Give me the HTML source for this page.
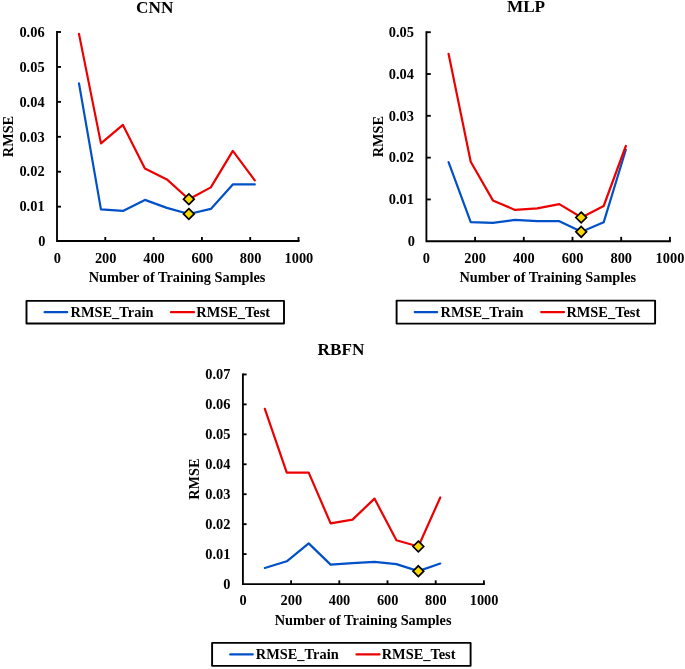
<!DOCTYPE html>
<html><head><meta charset="utf-8"><title>RMSE charts</title>
<style>
html,body{margin:0;padding:0;background:#fff;}
body{width:685px;height:669px;overflow:hidden;}
svg{display:block;will-change:transform;font-family:'Liberation Serif', serif;font-weight:bold;fill:#000;}
</style></head><body>
<svg width="685" height="669" viewBox="0 0 685 669">
<rect width="685" height="669" fill="#fff"/>
<path d="M57,31 V241 H299.5" fill="none" stroke="#000" stroke-width="1.85"/>
<text x="45.5" y="245.70" text-anchor="end" font-size="14.4">0</text>
<path d="M57,206.67 h4.0" stroke="#000" stroke-width="1.85"/>
<text x="44.6" y="211.37" text-anchor="end" font-size="14.4">0.01</text>
<path d="M57,171.73 h4.0" stroke="#000" stroke-width="1.85"/>
<text x="44.6" y="176.43" text-anchor="end" font-size="14.4">0.02</text>
<path d="M57,136.80 h4.0" stroke="#000" stroke-width="1.85"/>
<text x="44.6" y="141.50" text-anchor="end" font-size="14.4">0.03</text>
<path d="M57,101.87 h4.0" stroke="#000" stroke-width="1.85"/>
<text x="44.6" y="106.57" text-anchor="end" font-size="14.4">0.04</text>
<path d="M57,66.93 h4.0" stroke="#000" stroke-width="1.85"/>
<text x="44.6" y="71.63" text-anchor="end" font-size="14.4">0.05</text>
<path d="M57,32.00 h4.0" stroke="#000" stroke-width="1.85"/>
<text x="44.6" y="36.70" text-anchor="end" font-size="14.4">0.06</text>
<text x="57.40" y="262.7" text-anchor="middle" font-size="14.4">0</text>
<path d="M105.30,241 v-4.0" stroke="#000" stroke-width="1.85"/>
<text x="105.70" y="262.7" text-anchor="middle" font-size="14.4">200</text>
<path d="M153.60,241 v-4.0" stroke="#000" stroke-width="1.85"/>
<text x="154.00" y="262.7" text-anchor="middle" font-size="14.4">400</text>
<path d="M201.90,241 v-4.0" stroke="#000" stroke-width="1.85"/>
<text x="202.30" y="262.7" text-anchor="middle" font-size="14.4">600</text>
<path d="M250.20,241 v-4.0" stroke="#000" stroke-width="1.85"/>
<text x="250.60" y="262.7" text-anchor="middle" font-size="14.4">800</text>
<path d="M298.50,241 v-4.0" stroke="#000" stroke-width="1.85"/>
<text x="298.90" y="262.7" text-anchor="middle" font-size="14.4">1000</text>
<text x="154.7" y="12.5" text-anchor="middle" font-size="17.2">CNN</text>
<text x="177.0" y="282.4" text-anchor="middle" font-size="14.3">Number of Training Samples</text>
<text transform="translate(13,136.5) rotate(-90)" text-anchor="middle" font-size="14.3">RMSE</text>
<polyline points="78.98,83.4 100.95,209.4 122.93,210.9 144.91,199.9 166.88,207.9 188.86,213.95 210.84,208.9 232.81,184.4 254.79,184.4" fill="none" stroke="#0050c8" stroke-width="2.2" stroke-linejoin="round" stroke-linecap="round"/>
<polyline points="78.98,33.9 100.95,143.4 122.93,124.9 144.91,168.4 166.88,179.4 188.86,199.2 210.84,187.4 232.81,150.9 254.79,180.4" fill="none" stroke="#ed0000" stroke-width="2.2" stroke-linejoin="round" stroke-linecap="round"/>
<path d="M188.85,193.85 L194.2,199.2 L188.85,204.54999999999998 L183.5,199.2 Z" fill="#fad900" stroke="#000" stroke-width="1.7"/>
<path d="M188.85,208.6 L194.2,213.95 L188.85,219.29999999999998 L183.5,213.95 Z" fill="#fad900" stroke="#000" stroke-width="1.7"/>
<rect x="26.5" y="300.9" width="257.5" height="22.600000000000023" fill="#fff" stroke="#000" stroke-width="1.9" stroke-linejoin="round"/>
<path d="M44.6,312.2 H67.2" stroke="#0050c8" stroke-width="2.2" stroke-linecap="round"/>
<text x="70.5" y="317.0" font-size="14.4">RMSE_Train</text>
<path d="M171,312.2 H194" stroke="#ed0000" stroke-width="2.2" stroke-linecap="round"/>
<text x="196.3" y="317.0" font-size="14.4">RMSE_Test</text>
<path d="M426.4,31.200000000000003 V241.25 H670.9" fill="none" stroke="#000" stroke-width="1.85"/>
<text x="415.0" y="245.95" text-anchor="end" font-size="14.4">0</text>
<path d="M426.4,199.44 h4.4" stroke="#000" stroke-width="1.85"/>
<text x="414" y="204.14" text-anchor="end" font-size="14.4">0.01</text>
<path d="M426.4,157.63 h4.4" stroke="#000" stroke-width="1.85"/>
<text x="414" y="162.33" text-anchor="end" font-size="14.4">0.02</text>
<path d="M426.4,115.82 h4.4" stroke="#000" stroke-width="1.85"/>
<text x="414" y="120.52" text-anchor="end" font-size="14.4">0.03</text>
<path d="M426.4,74.01 h4.4" stroke="#000" stroke-width="1.85"/>
<text x="414" y="78.71" text-anchor="end" font-size="14.4">0.04</text>
<path d="M426.4,32.20 h4.4" stroke="#000" stroke-width="1.85"/>
<text x="414" y="36.90" text-anchor="end" font-size="14.4">0.05</text>
<text x="426.45" y="262.6" text-anchor="middle" font-size="14.4">0</text>
<path d="M475.10,241.25 v-4.4" stroke="#000" stroke-width="1.85"/>
<text x="475.15" y="262.6" text-anchor="middle" font-size="14.4">200</text>
<path d="M523.80,241.25 v-4.4" stroke="#000" stroke-width="1.85"/>
<text x="523.85" y="262.6" text-anchor="middle" font-size="14.4">400</text>
<path d="M572.50,241.25 v-4.4" stroke="#000" stroke-width="1.85"/>
<text x="572.55" y="262.6" text-anchor="middle" font-size="14.4">600</text>
<path d="M621.20,241.25 v-4.4" stroke="#000" stroke-width="1.85"/>
<text x="621.25" y="262.6" text-anchor="middle" font-size="14.4">800</text>
<path d="M669.90,241.25 v-4.4" stroke="#000" stroke-width="1.85"/>
<text x="669.95" y="262.6" text-anchor="middle" font-size="14.4">1000</text>
<text x="526" y="12.4" text-anchor="middle" font-size="17.2">MLP</text>
<text x="547.75" y="282.4" text-anchor="middle" font-size="14.3">Number of Training Samples</text>
<text transform="translate(383,136.7) rotate(-90)" text-anchor="middle" font-size="14.3">RMSE</text>
<polyline points="448.56,162.2 470.72,222.2 492.88,222.85 515.03,219.85 537.19,221.2 559.35,221.2 581.51,231.85 603.67,222.35 625.83,149.8" fill="none" stroke="#0050c8" stroke-width="2.2" stroke-linejoin="round" stroke-linecap="round"/>
<polyline points="448.56,53.75 470.72,161.7 492.88,200.4 515.03,209.95 537.19,208.3 559.35,204.15 581.51,217.5 603.67,206.0 625.83,146.0" fill="none" stroke="#ed0000" stroke-width="2.2" stroke-linejoin="round" stroke-linecap="round"/>
<path d="M581.2,212.15 L586.5500000000001,217.5 L581.2,222.85 L575.85,217.5 Z" fill="#fad900" stroke="#000" stroke-width="1.7"/>
<path d="M581.2,226.5 L586.5500000000001,231.85 L581.2,237.2 L575.85,231.85 Z" fill="#fad900" stroke="#000" stroke-width="1.7"/>
<rect x="396.6" y="300.6" width="258.5" height="23.0" fill="#fff" stroke="#000" stroke-width="1.9" stroke-linejoin="round"/>
<path d="M414.7,312.1 H437.2" stroke="#0050c8" stroke-width="2.2" stroke-linecap="round"/>
<text x="440.5" y="316.90000000000003" font-size="14.4">RMSE_Train</text>
<path d="M541.2,312.1 H564" stroke="#ed0000" stroke-width="2.2" stroke-linecap="round"/>
<text x="566.4" y="316.90000000000003" font-size="14.4">RMSE_Test</text>
<path d="M242.9,373.45 V584.05 H484.9" fill="none" stroke="#000" stroke-width="1.85"/>
<text x="230.4" y="588.75" text-anchor="end" font-size="14.4">0</text>
<path d="M242.9,554.11 h3.7" stroke="#000" stroke-width="1.85"/>
<text x="230.4" y="558.74" text-anchor="end" font-size="14.4">0.01</text>
<path d="M242.9,524.16 h3.7" stroke="#000" stroke-width="1.85"/>
<text x="230.4" y="528.74" text-anchor="end" font-size="14.4">0.02</text>
<path d="M242.9,494.22 h3.7" stroke="#000" stroke-width="1.85"/>
<text x="230.4" y="498.73" text-anchor="end" font-size="14.4">0.03</text>
<path d="M242.9,464.28 h3.7" stroke="#000" stroke-width="1.85"/>
<text x="230.4" y="468.72" text-anchor="end" font-size="14.4">0.04</text>
<path d="M242.9,434.34 h3.7" stroke="#000" stroke-width="1.85"/>
<text x="230.4" y="438.71" text-anchor="end" font-size="14.4">0.05</text>
<path d="M242.9,404.39 h3.7" stroke="#000" stroke-width="1.85"/>
<text x="230.4" y="408.71" text-anchor="end" font-size="14.4">0.06</text>
<path d="M242.9,374.45 h3.7" stroke="#000" stroke-width="1.85"/>
<text x="230.4" y="378.70" text-anchor="end" font-size="14.4">0.07</text>
<text x="243.10" y="604.6" text-anchor="middle" font-size="14.4">0</text>
<path d="M291.10,584.05 v-3.7" stroke="#000" stroke-width="1.85"/>
<text x="291.30" y="604.6" text-anchor="middle" font-size="14.4">200</text>
<path d="M339.30,584.05 v-3.7" stroke="#000" stroke-width="1.85"/>
<text x="339.50" y="604.6" text-anchor="middle" font-size="14.4">400</text>
<path d="M387.50,584.05 v-3.7" stroke="#000" stroke-width="1.85"/>
<text x="387.70" y="604.6" text-anchor="middle" font-size="14.4">600</text>
<path d="M435.70,584.05 v-3.7" stroke="#000" stroke-width="1.85"/>
<text x="435.90" y="604.6" text-anchor="middle" font-size="14.4">800</text>
<path d="M483.90,584.05 v-3.7" stroke="#000" stroke-width="1.85"/>
<text x="484.10" y="604.6" text-anchor="middle" font-size="14.4">1000</text>
<text x="341.0" y="355.0" text-anchor="middle" font-size="17.2">RBFN</text>
<text x="363.1" y="625.1" text-anchor="middle" font-size="14.3">Number of Training Samples</text>
<text transform="translate(198.6,479.2) rotate(-90)" text-anchor="middle" font-size="14.3">RMSE</text>
<polyline points="264.83,568.05 286.76,561.3 308.69,543.35 330.62,564.6 352.56,563.1 374.49,561.8 396.42,564.1 418.35,571.15 440.28,563.55" fill="none" stroke="#0050c8" stroke-width="2.2" stroke-linejoin="round" stroke-linecap="round"/>
<polyline points="264.83,408.85 286.76,472.6 308.69,472.6 330.62,523.35 352.56,519.6 374.49,498.6 396.42,540.25 418.35,546.5 440.28,497.5" fill="none" stroke="#ed0000" stroke-width="2.2" stroke-linejoin="round" stroke-linecap="round"/>
<path d="M418.35,541.15 L423.70000000000005,546.5 L418.35,551.85 L413.0,546.5 Z" fill="#fad900" stroke="#000" stroke-width="1.7"/>
<path d="M418.35,565.8 L423.70000000000005,571.15 L418.35,576.5 L413.0,571.15 Z" fill="#fad900" stroke="#000" stroke-width="1.7"/>
<rect x="212.1" y="642.9" width="258.5" height="22.950000000000045" fill="#fff" stroke="#000" stroke-width="1.9" stroke-linejoin="round"/>
<path d="M230.2,654.375 H252.75" stroke="#0050c8" stroke-width="2.2" stroke-linecap="round"/>
<text x="255.8" y="659.175" font-size="14.4">RMSE_Train</text>
<path d="M356.5,654.375 H379.5" stroke="#ed0000" stroke-width="2.2" stroke-linecap="round"/>
<text x="381.7" y="659.175" font-size="14.4">RMSE_Test</text>
</svg>
</body></html>
